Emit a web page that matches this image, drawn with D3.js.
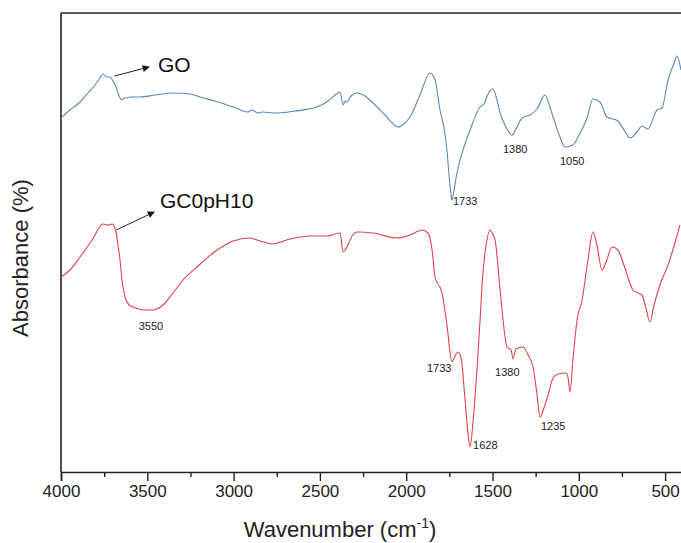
<!DOCTYPE html>
<html>
<head>
<meta charset="utf-8">
<script src="https://cdn.jsdelivr.net/npm/d3@7"></script>
<style>
  html, body { margin: 0; padding: 0; background: #fff; }
  svg { display: block; font-family: "Liberation Sans", Arial, Helvetica, sans-serif; }
</style>
</head>
<body>
<svg id="chart" width="681" height="543"></svg>
<script>
// Wavenumber (cm^-1) and absorbance (arbitrary units)
const goWavenumber = [4000,3948,3890,3844,3803,3774,3757,3733,3716,3699,3681,3670,3658,3647,3635,3618,3600,3542,3455,3351,3253,3195,3108,3003,2917,2894,2859,2835,2749,2644,2517,2453,2412,2383,2366,2354,2343,2320,2285,2239,2192,2123,2047,2007,1978,1920,1862,1833,1804,1781,1764,1752,1740,1735,1723,1706,1688,1671,1630,1572,1549,1526,1497,1474,1456,1422,1387,1358,1329,1283,1242,1196,1173,1149,1109,1080,1034,993,952,918,877,837,773,738,703,663,634,599,564,547,518,483,448,431,408];
const goAbsorbance = [354,362,370,379,387,394,398,395,395,391,385,379,374,372,374,374,375,375,377,379,378,375,371,365,360,362,359,360,359,361,365,371,377,380,367,371,370,376,379,376,369,357,345,349,355,377,399,392,362,344,322,297,277,272,282,299,312,322,342,365,368,378,383,372,359,345,337,345,354,357,363,377,368,355,335,325,327,339,354,373,370,355,351,342,334,340,346,343,356,362,364,392,409,416,402];

const gcWavenumber = [4000,3948,3890,3820,3757,3728,3704,3681,3670,3658,3647,3629,3606,3583,3513,3467,3409,3351,3293,3206,3119,3050,3003,2905,2847,2777,2673,2557,2459,2383,2366,2343,2314,2285,2192,2053,1978,1908,1874,1850,1833,1792,1764,1735,1717,1700,1682,1659,1641,1630,1612,1589,1572,1560,1537,1514,1497,1485,1456,1416,1392,1381,1364,1323,1294,1265,1242,1225,1202,1178,1149,1120,1074,1062,1051,1034,1010,981,947,918,895,866,842,807,773,733,686,657,634,611,588,564,530,483,443,414];
const gcAbsorbance = [195,202,215,232,248,247,248,240,227,212,192,175,167,165,162,162,167,179,192,206,219,227,231,234,231,228,233,236,236,239,220,225,236,240,239,234,237,242,239,222,195,179,147,110,116,120,114,72,37,25,52,105,152,189,227,242,237,232,182,125,122,113,123,125,117,105,77,55,64,77,94,98,99,94,80,112,152,172,212,240,227,202,210,225,222,204,182,179,177,164,150,167,187,207,229,247];

const xTicks = [4000,3500,3000,2500,2000,1500,1000,500];
const xMinorTicks = [3750,3250,2750,2250,1750,1250,750];

// Peak annotations
const goPeakLabels = ["1733","1380","1050"];
const goPeakWn = [1735,1387,1080];
const goPeakAbs = [272,337,325];
const gcPeakLabels = ["3550","1733","1628","1380","1235"];
const gcPeakWn = [3550,1735,1630,1381,1225];
const gcPeakAbs = [162,110,25,113,55];

const seriesNames = ["GO","GC0pH10"];
const seriesColors = ["#5f87b4","#e0434a"];

const svg = d3.select("#chart");
const mLeft = 61, mTop = 13, mBottom = 472;
const pxPerUnit = 0.1726;
const x = d3.scaleLinear().domain([4000, 400]).range([mLeft, mLeft + 3600 * pxPerUnit]);
const y = d3.scaleLinear().domain([0, 459]).range([mBottom, mTop]);

svg.append("defs").append("marker")
  .attr("id","arrow").attr("viewBox","0 0 10 10").attr("refX",9).attr("refY",5)
  .attr("markerWidth",9).attr("markerHeight",7).attr("markerUnits","userSpaceOnUse")
  .attr("orient","auto")
  .append("path").attr("d","M0,0 L10,5 L0,10 Z").attr("fill","#111");

// frame: top and left
svg.append("line").attr("x1",mLeft).attr("x2",681).attr("y1",mTop).attr("y2",mTop)
  .attr("stroke","#222").attr("stroke-width",1.6);
svg.append("line").attr("x1",mLeft).attr("x2",mLeft).attr("y1",mTop).attr("y2",mBottom)
  .attr("stroke","#222").attr("stroke-width",1.6);

// x axis
const xAxis = d3.axisBottom(x).tickValues(xTicks).tickSize(9).tickPadding(4).tickFormat(d3.format("d"));
const gx = svg.append("g").attr("transform",`translate(0,${mBottom})`).call(xAxis);
gx.select(".domain").attr("stroke","#222").attr("stroke-width",1.6);
gx.selectAll(".tick line").attr("stroke","#222").attr("stroke-width",1.4);
gx.selectAll(".tick text").attr("font-size",17).attr("fill","#222")
  .attr("font-family","'Liberation Sans', Arial, sans-serif");
const gxm = svg.append("g").attr("transform",`translate(0,${mBottom})`)
  .call(d3.axisBottom(x).tickValues(xMinorTicks).tickSize(5).tickFormat(""));
gxm.select(".domain").remove();
gxm.selectAll(".tick line").attr("stroke","#222").attr("stroke-width",1.4);

// axis titles
const xt = svg.append("text").attr("x",340).attr("y",537).attr("text-anchor","middle")
  .attr("font-size",22).attr("fill","#222");
xt.append("tspan").text("Wavenumber (cm");
xt.append("tspan").attr("dy",-9).attr("font-size",14).text("-1");
xt.append("tspan").attr("dy",9).text(")");

svg.append("text").attr("transform","translate(28,258) rotate(-90)")
  .attr("text-anchor","middle").attr("font-size",22).attr("fill","#222")
  .text("Absorbance (%)");

// lines
const line = d3.line().x(d => x(d[0])).y(d => y(d[1])).curve(d3.curveMonotoneX);
const goData = goWavenumber.map((w,i) => [w, goAbsorbance[i]]);
const gcData = gcWavenumber.map((w,i) => [w, gcAbsorbance[i]]);
svg.append("path").datum(goData).attr("d",line).attr("fill","none")
  .attr("stroke",seriesColors[0]).attr("stroke-width",1.1);
svg.append("path").datum(gcData).attr("d",line).attr("fill","none")
  .attr("stroke",seriesColors[1]).attr("stroke-width",1.1);

// series labels with arrows
svg.append("line").attr("x1",x(3690)).attr("y1",y(396)).attr("x2",x(3490)).attr("y2",y(405))
  .attr("stroke","#222").attr("stroke-width",1).attr("marker-end","url(#arrow)");
svg.append("text").attr("x",158).attr("y",72).attr("font-size",21).attr("fill","#111").text(seriesNames[0]);
svg.append("line").attr("x1",x(3680)).attr("y1",y(242)).attr("x2",x(3460)).attr("y2",y(260))
  .attr("stroke","#222").attr("stroke-width",1).attr("marker-end","url(#arrow)");
svg.append("text").attr("x",160).attr("y",208).attr("font-size",21).attr("fill","#111").text(seriesNames[1]);

// peak labels
const goOffsets = [[1,-5],[-9,-18],[-5,-18]];
goPeakLabels.forEach((t,i) => {
  svg.append("text").attr("x", x(goPeakWn[i]) + goOffsets[i][0])
    .attr("y", y(goPeakAbs[i]) - goOffsets[i][1]).attr("font-size",11).attr("fill","#222").text(t);
});
const gcOffsets = [[0,-20],[-25,-10],[3,-2],[-18,-17],[1,-13]];
gcPeakLabels.forEach((t,i) => {
  svg.append("text").attr("x", x(gcPeakWn[i]) + gcOffsets[i][0])
    .attr("y", y(gcPeakAbs[i]) - gcOffsets[i][1]).attr("font-size",11).attr("fill","#222").text(t);
});
</script>
</body>
</html>
